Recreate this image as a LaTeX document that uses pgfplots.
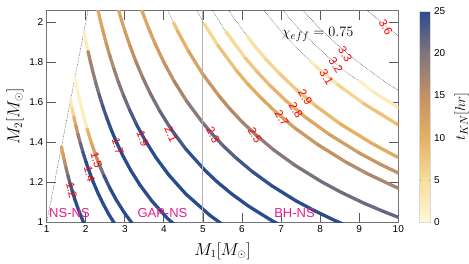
\documentclass[border=0pt]{standalone}
\usepackage{pgfplots}
\pgfplotsset{compat=1.18}
\usepackage{fontspec}
\setmainfont{Liberation Sans}
\definecolor{regpink}{RGB}{232,30,140}
\begin{document}
\begin{tikzpicture}
\path[use as bounding box] (-46.7pt,-41.7pt) rectangle (422.3pt,222.3pt);
\begin{axis}[
  at={(0pt,0pt)}, anchor=south west,
  scale only axis, width=351.6pt, height=211.3pt,
  xmin=1, xmax=10, ymin=1, ymax=2.0565,
  xtick={1,2,...,10}, ytick={1,1.2,1.4,1.6,1.8,2},
  tick align=inside, major tick length=9pt,
  tick style={line width=0.8pt, color=black!65},
  axis line style={line width=1pt, color=black!55},
  ticklabel style={font=\fontsize{10}{12}\selectfont},
  /pgf/number format/assume math mode=true,
  xlabel={$M_1[M_\odot]$}, ylabel={$M_2[M_\odot]$},
  xlabel style={at={(axis description cs:0.5,-0.135)}, anchor=center, font=\fontsize{16}{18}\selectfont},
  ylabel style={at={(axis description cs:-0.09,0.5)}, anchor=center, rotate=0, font=\fontsize{16}{18}\selectfont},
  colormap={tkn}{rgb255=(255,248,215) rgb255=(248,220,155) rgb255=(230,176,100) rgb255=(195,145,100) rgb255=(128,116,125) rgb255=(42,76,140)},
  point meta min=0, point meta max=25,
  colorbar,
  colorbar style={
    at={(parent axis.north east)}, anchor=north west, xshift=12.4pt,
    width=11.3pt, height=211.3pt,
    ytick={0,5,...,25}, major tick length=2pt,
    tick style={color=black!40},
    axis line style={draw=black!15},
    yticklabel style={font=\fontsize{10}{12}\selectfont},
    /pgf/number format/assume math mode=true,
    ylabel={$t_{KN}[hr]$},
    ylabel style={at={(axis description cs:3.75,0.5)}, anchor=center, rotate=0, font=\fontsize{15}{17}\selectfont},
  },
  clip=true,
]
% dotted parts of contours
\addplot[densely dotted, line width=0.5pt, black!85] coordinates {(1,1) (2.1,2.1)};
\addplot[densely dotted, line width=0.5pt, black!85] coordinates {(3.907,2.149) (4.110,2.055) (4.25,1.997)};
\addplot[densely dotted, line width=0.5pt, black!85] coordinates {(4.696,2.113) (5.004,2.002) (5.04,1.99)};
\addplot[densely dotted, line width=0.5pt, black!85] coordinates {(4.870,2.191) (5.190,2.076) (5.582,1.954)};
\addplot[densely dotted, line width=0.5pt, black!85] coordinates {(5.375,2.150) (5.781,2.023) (6.13,1.932)};
\addplot[densely dotted, line width=0.5pt, black!85] coordinates {(6.44,2.093) (6.728,2.018) (7.061,1.942) (7.447,1.862) (7.75,1.806)};
\addplot[densely dotted, line width=0.5pt, black!85] coordinates {(6.945,2.084) (7.289,2.004) (7.687,1.922) (8.156,1.835) (8.717,1.743) (8.99,1.708)};
\addplot[densely dotted, line width=0.5pt, black!85] coordinates {(7.162,2.149) (7.517,2.067) (7.928,1.982) (8.411,1.892) (8.990,1.798) (9.698,1.697) (10.593,1.589)};
\addplot[densely dotted, line width=0.5pt, black!85] coordinates {(8.648,2.162) (9.175,2.065) (9.807,1.961) (10.580,1.851)};
% coloured contours (t_KN as point meta)
\pgfplotsset{cont/.style={mesh, line width=3.3pt, line cap=round, line join=round, point meta=explicit}}
% 1.2
\addplot[cont] coordinates {(1.378,1.378) [11] (1.414,1.344) [12] (1.453,1.308) [14] (1.496,1.272) [17] (1.543,1.234) [20] (1.595,1.196) [23] (1.653,1.157) [24] (1.718,1.116) [25] (1.791,1.075) [25] (1.875,1.031) [25] (1.973,0.986) [25]};
% 1.4
\addplot[cont] coordinates {(1.608,1.608) [2] (1.650,1.568) [3] (1.696,1.526) [8] (1.746,1.484) [12] (1.800,1.440) [16] (1.861,1.396) [20] (1.928,1.350) [23] (2.004,1.303) [25] (2.090,1.254) [25] (2.188,1.203) [25] (2.301,1.151) [25] (2.435,1.096) [25] (2.595,1.038) [25] (2.791,0.977) [25]};
% 1.5
\addplot[cont] coordinates {(1.723,1.723) [1] (1.768,1.680) [1] (1.817,1.635) [1.5] (1.870,1.590) [1.5] (1.929,1.543) [2] (1.994,1.495) [2] (2.037,1.467) [2] (2.037,1.467) [9] (2.066,1.446) [9] (2.147,1.396) [11] (2.239,1.343) [13] (2.344,1.289) [18] (2.466,1.233) [23] (2.609,1.174) [25] (2.780,1.112) [25] (2.990,1.047) [25] (3.255,0.977) [25]};
% 1.7
\addplot[cont] coordinates {(1.953,1.953) [1] (2.004,1.903) [2] (2.059,1.853) [3] (2.059,1.853) [16] (2.120,1.802) [17] (2.186,1.749) [18] (2.259,1.695) [19] (2.341,1.639) [21] (2.433,1.582) [23] (2.537,1.522) [24] (2.656,1.461) [25] (2.794,1.397) [25] (2.957,1.330) [25] (3.151,1.260) [25] (3.389,1.186) [25] (3.690,1.107) [25] (4.084,1.021) [25] (4.631,0.926) [25]};
% 1.9
\addplot[cont] coordinates {(2.301,2.071) [11] (2.369,2.013) [11] (2.443,1.955) [12] (2.525,1.894) [13.5] (2.617,1.832) [15] (2.720,1.768) [17] (2.836,1.701) [19] (2.969,1.633) [20] (3.123,1.562) [22] (3.304,1.487) [24] (3.522,1.409) [25] (3.788,1.326) [25] (4.124,1.237) [25] (4.564,1.141) [25] (5.176,1.035) [25] (5.584,0.977) [25]};
% 2.1
\addplot[cont] coordinates {(2.791,2.093) [11] (2.892,2.025) [11.5] (3.006,1.954) [12.5] (3.134,1.881) [14] (3.281,1.805) [16] (3.452,1.726) [18] (3.652,1.644) [19.5] (3.892,1.557) [21] (4.186,1.465) [22.5] (4.558,1.367) [24] (5.045,1.261) [25] (5.352,1.204) [25] (5.721,1.144) [25] (6.172,1.080) [25] (6.741,1.011) [25] (7.162,0.967) [25]};
% 2.3
\addplot[cont] coordinates {(3.433,2.060) [11] (3.594,1.977) [11.5] (3.781,1.890) [12.5] (4.000,1.800) [14] (4.263,1.705) [16] (4.585,1.605) [18] (4.992,1.498) [20] (5.239,1.441) [21] (5.525,1.381) [22] (5.862,1.319) [23] (6.266,1.253) [24] (6.759,1.183) [25] (7.383,1.107) [25] (7.844,1.059) [25] (8.396,1.007) [25] (8.830,0.971) [25]};
% 2.5
\addplot[cont] coordinates {(4.25,1.997) [7] (4.348,1.957) [8.5] (4.634,1.854) [11] (4.984,1.744) [13] (5.426,1.628) [15] (5.694,1.566) [16] (6.006,1.501) [17] (6.372,1.434) [18] (6.810,1.362) [19] (7.347,1.286) [20] (8.025,1.204) [20.5] (8.526,1.151) [21] (9.126,1.095) [21] (9.598,1.056) [21.5] (10.144,1.014) [22]};
% 2.7
\addplot[cont] coordinates {(5.04,1.99) [4] (5.382,1.884) [7] (5.860,1.758) [9] (6.150,1.691) [10] (6.486,1.622) [11] (6.881,1.548) [12] (7.355,1.471) [13] (7.935,1.389) [14] (8.667,1.300) [15.5] (9.208,1.243) [16.5] (9.856,1.183) [17] (10.366,1.140) [17.5]};
% 2.8
\addplot[cont] coordinates {(5.582,1.954) [4] (6.077,1.823) [6.5] (6.378,1.754) [8] (6.726,1.682) [9] (7.136,1.606) [10] (7.627,1.525) [11] (8.229,1.440) [12] (8.988,1.348) [13.5] (9.549,1.289) [14.5] (10.221,1.226) [15]};
% 2.9
\addplot[cont] coordinates {(6.13,1.932) [3] (6.294,1.888) [4] (6.605,1.816) [5] (6.967,1.742) [6.5] (7.391,1.663) [7.5] (7.900,1.580) [8.5] (8.523,1.491) [9.5] (9.309,1.396) [10.5] (9.890,1.335) [11] (10.586,1.270) [11.5]};
% 3.1
\addplot[cont] coordinates {(7.75,1.806) [2] (7.901,1.778) [2.5] (8.445,1.689) [4.5] (9.111,1.594) [7] (9.951,1.493) [9] (10.572,1.427) [9.5]};
% 3.2
\addplot[cont] coordinates {(8.99,1.708) [1] (9.404,1.646) [1.5] (10.272,1.541) [3]};
% boundary M1 = 5
\addplot[line width=1pt, black!30] coordinates {(5,0.9) (5,2.2)};
% contour labels
\begin{scope}[every node/.style={text=red, font=\fontsize{11.5}{13}\selectfont, inner sep=0pt}]
\node[rotate=-78] at (axis cs:1.64,1.16) {1.2};
\node[rotate=-76] at (axis cs:2.10,1.24) {1.4};
\node[rotate=-74] at (axis cs:2.27,1.31) {1.5};
\node[rotate=-72] at (axis cs:2.82,1.38) {1.7};
\node[rotate=-70] at (axis cs:3.46,1.42) {1.9};
\node[rotate=-66] at (axis cs:4.18,1.44) {2.1};
\node[rotate=-62] at (axis cs:5.26,1.436) {2.3};
\node[rotate=-60] at (axis cs:6.33,1.435) {2.5};
\node[rotate=-58] at (axis cs:7.02,1.52) {2.7};
\node[rotate=-58] at (axis cs:7.38,1.56) {2.8};
\node[rotate=-58] at (axis cs:7.62,1.625) {2.9};
\node[rotate=-58] at (axis cs:8.16,1.725) {3.1};
\node[rotate=-58] at (axis cs:8.40,1.785) {3.2};
\node[rotate=-58] at (axis cs:8.64,1.84) {3.3};
\node[rotate=-60] at (axis cs:9.68,1.975) {3.6};
\end{scope}
\node[anchor=base west, text=regpink, font=\fontsize{13}{15}\selectfont, inner sep=0pt] at (axis cs:1.06,1.025) {NS-NS};
\node[anchor=base west, text=regpink, font=\fontsize{13}{15}\selectfont, inner sep=0pt] at (axis cs:3.32,1.025) {GAP-NS};
\node[anchor=base west, text=regpink, font=\fontsize{13}{15}\selectfont, inner sep=0pt] at (axis cs:6.82,1.025) {BH-NS};
\node[anchor=base west, font=\fontsize{15.5}{18}\selectfont, inner sep=0pt] at (axis cs:7.015,1.928) {$\chi_{eff}=0.75$};
\end{axis}
\end{tikzpicture}
\end{document}
